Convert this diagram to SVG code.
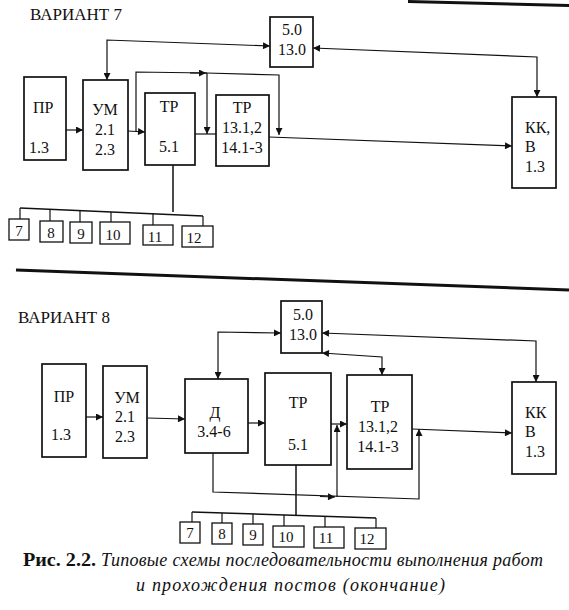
<svg xmlns="http://www.w3.org/2000/svg" width="569" height="610" viewBox="0 0 569 610">
<style>
.bx{fill:#fff;stroke:#111;stroke-width:1.7}
.sb{fill:#fff;stroke:#111;stroke-width:1.3}
.ln{fill:none;stroke:#111;stroke-width:1.2}
.bus{fill:none;stroke:#111;stroke-width:1.5}
text{font-family:"Liberation Serif","Times New Roman",serif;fill:#111}
.t{font-size:16px}
.tc{font-size:16px;text-anchor:middle}
.ts{font-size:15px;text-anchor:middle}
.hd{font-size:17px}
.cb{font-size:18px;font-weight:bold}
.ci{font-size:18px;font-style:italic}
</style>
<defs>
<marker id="ar" viewBox="0 0 10 10" refX="10" refY="5" markerWidth="8" markerHeight="7" markerUnits="userSpaceOnUse" orient="auto-start-reverse">
<path d="M0,0 L10,5 L0,10 z" fill="#111"/>
</marker>
</defs>

<g id="separators">
<line x1="408" y1="1.5" x2="569" y2="5.5" stroke="#111" stroke-width="3"/>
<line x1="16" y1="270" x2="569" y2="290" stroke="#111" stroke-width="3"/>
</g>

<text class="hd" x="30" y="20">ВАРИАНТ 7</text>
<text class="hd" x="18" y="323">ВАРИАНТ 8</text>

<g id="connectors-v7">
<line class="ln" x1="66" y1="130" x2="83" y2="130" marker-end="url(#ar)"/>
<line class="ln" x1="128" y1="131" x2="145" y2="132" marker-end="url(#ar)"/>
<polyline class="ln" points="136,131 136,72 207,73"/>
<line class="ln" x1="190" y1="73" x2="206" y2="73" marker-end="url(#ar)"/>
<polyline class="ln" points="206,73 279,75 279,135" marker-end="url(#ar)"/>
<line class="ln" x1="207" y1="73" x2="207" y2="134" marker-end="url(#ar)"/>
<line class="ln" x1="195" y1="134" x2="216" y2="134"/>
<line class="ln" x1="269" y1="137" x2="512" y2="146" marker-end="url(#ar)"/>
<polyline class="ln" points="107,80 107,40 270,46" marker-start="url(#ar)" marker-end="url(#ar)"/>
<polyline class="ln" points="313,48 537,57 537,97" marker-start="url(#ar)" marker-end="url(#ar)"/>
<line class="bus" x1="173" y1="165" x2="173" y2="212"/>
<line class="bus" x1="20" y1="208" x2="203" y2="216"/>
<line class="ln" x1="20" y1="208" x2="20" y2="219"/>
<line class="ln" x1="50" y1="209.3" x2="50" y2="221"/>
<line class="ln" x1="80" y1="210.6" x2="80" y2="222"/>
<line class="ln" x1="111" y1="212" x2="111" y2="222"/>
<line class="ln" x1="153" y1="213.8" x2="153" y2="225"/>
<line class="ln" x1="203" y1="216" x2="203" y2="226"/>
</g>

<g id="v7-pr"><rect class="bx" x="24" y="77" width="42" height="83"/>
<text class="t" x="33" y="113">ПР</text><text class="t" x="29" y="153">1.3</text></g>
<g id="v7-um"><rect class="bx" x="83" y="80" width="45" height="90"/>
<text class="tc" x="105" y="115">УМ</text><text class="tc" x="105" y="135">2.1</text><text class="tc" x="105" y="155">2.3</text></g>
<g id="v7-tr51"><rect class="bx" x="145" y="93" width="50" height="72"/>
<text class="tc" x="169" y="112">ТР</text><text class="tc" x="169" y="152">5.1</text></g>
<g id="v7-tr13"><rect class="bx" x="216" y="95" width="53" height="71"/>
<text class="tc" x="242" y="113">ТР</text><text class="tc" x="242" y="133">13.1,2</text><text class="tc" x="242" y="153">14.1-3</text></g>
<g id="v7-50"><rect class="bx" x="270" y="17" width="43" height="50"/>
<text class="tc" x="292" y="35">5.0</text><text class="tc" x="292" y="55">13.0</text></g>
<g id="v7-kk"><rect class="bx" x="512" y="97" width="44" height="91"/>
<text class="t" x="525" y="133">КК,</text><text class="t" x="525" y="152">В</text><text class="t" x="525" y="172">1.3</text></g>
<g id="v7-b7"><rect class="sb" x="9" y="219" width="20" height="21"/><text class="ts" x="19" y="236">7</text></g>
<g id="v7-b8"><rect class="sb" x="40" y="221" width="23" height="21"/><text class="ts" x="51" y="238">8</text></g>
<g id="v7-b9"><rect class="sb" x="70" y="222" width="22" height="21"/><text class="ts" x="81" y="239">9</text></g>
<g id="v7-b10"><rect class="sb" x="100" y="222" width="30" height="22"/><text class="ts" x="113" y="240">10</text></g>
<g id="v7-b11"><rect class="sb" x="143" y="225" width="30" height="20"/><text class="ts" x="155" y="242">11</text></g>
<g id="v7-b12"><rect class="sb" x="182" y="226" width="31" height="21"/><text class="ts" x="194" y="243">12</text></g>

<g id="connectors-v8">
<line class="ln" x1="86" y1="417" x2="103" y2="417" marker-end="url(#ar)"/>
<line class="ln" x1="147" y1="418" x2="185" y2="419" marker-end="url(#ar)"/>
<line class="ln" x1="248" y1="423" x2="265" y2="423" marker-end="url(#ar)"/>
<polyline class="ln" points="218,379 218,332 281,333" marker-start="url(#ar)" marker-end="url(#ar)"/>
<polyline class="ln" points="322,333 536,341 536,382" marker-start="url(#ar)" marker-end="url(#ar)"/>
<polyline class="ln" points="322,353 382,357 382,375" marker-start="url(#ar)" marker-end="url(#ar)"/>
<line class="ln" x1="331" y1="424" x2="347" y2="424" marker-end="url(#ar)"/>
<line class="ln" x1="412" y1="429" x2="512" y2="433" marker-end="url(#ar)"/>
<polyline class="ln" points="213,453 213,492 419,499 419,429" marker-end="url(#ar)"/>
<line class="ln" x1="320" y1="496.5" x2="335" y2="497" marker-end="url(#ar)"/>
<line class="ln" x1="337" y1="497" x2="337" y2="425" marker-end="url(#ar)"/>
<line class="bus" x1="296" y1="465" x2="296" y2="515"/>
<line class="bus" x1="192" y1="512" x2="376" y2="518"/>
<line class="ln" x1="192" y1="512" x2="192" y2="522"/>
<line class="ln" x1="222" y1="513" x2="222" y2="523"/>
<line class="ln" x1="253" y1="514" x2="253" y2="524"/>
<line class="ln" x1="284" y1="515" x2="284" y2="526"/>
<line class="ln" x1="325" y1="516.3" x2="325" y2="527"/>
<line class="ln" x1="376" y1="518" x2="376" y2="528"/>
</g>

<g id="v8-pr"><rect class="bx" x="42" y="364" width="44" height="93"/>
<text class="tc" x="64" y="402">ПР</text><text class="tc" x="61" y="440">1.3</text></g>
<g id="v8-um"><rect class="bx" x="103" y="366" width="44" height="92"/>
<text class="tc" x="127" y="403">УМ</text><text class="tc" x="125" y="422">2.1</text><text class="tc" x="125" y="442">2.3</text></g>
<g id="v8-d"><rect class="bx" x="185" y="379" width="63" height="74"/>
<text class="tc" x="215" y="418">Д</text><text class="tc" x="214" y="437">3.4-6</text></g>
<g id="v8-tr51"><rect class="bx" x="265" y="373" width="66" height="92"/>
<text class="tc" x="298" y="408">ТР</text><text class="tc" x="298" y="450">5.1</text></g>
<g id="v8-tr13"><rect class="bx" x="347" y="375" width="65" height="94"/>
<text class="tc" x="380" y="412">ТР</text><text class="tc" x="378" y="432">13.1,2</text><text class="tc" x="378" y="452">14.1-3</text></g>
<g id="v8-50"><rect class="bx" x="281" y="301" width="41" height="52"/>
<text class="tc" x="303" y="320">5.0</text><text class="tc" x="303" y="340">13.0</text></g>
<g id="v8-kk"><rect class="bx" x="512" y="382" width="44" height="92"/>
<text class="t" x="525" y="418">КК</text><text class="t" x="525" y="437">В</text><text class="t" x="525" y="457">1.3</text></g>
<g id="v8-b7"><rect class="sb" x="180" y="522" width="20" height="21"/><text class="ts" x="190" y="538">7</text></g>
<g id="v8-b8"><rect class="sb" x="212" y="523" width="20" height="21"/><text class="ts" x="222" y="539">8</text></g>
<g id="v8-b9"><rect class="sb" x="243" y="524" width="20" height="21"/><text class="ts" x="253" y="540">9</text></g>
<g id="v8-b10"><rect class="sb" x="273" y="526" width="31" height="21"/><text class="ts" x="286" y="542">10</text></g>
<g id="v8-b11"><rect class="sb" x="314" y="527" width="30" height="21"/><text class="ts" x="326" y="543">11</text></g>
<g id="v8-b12"><rect class="sb" x="355" y="528" width="31" height="21"/><text class="ts" x="367" y="544">12</text></g>

<g id="caption">
<text class="cb" x="23" y="566" textLength="73" lengthAdjust="spacingAndGlyphs">Рис. 2.2.</text>
<text class="ci" x="101" y="566" textLength="442" lengthAdjust="spacing">Типовые схемы последовательности выполнения работ</text>
<text class="ci" x="136" y="591" textLength="309" lengthAdjust="spacing">и прохождения постов (окончание)</text>
</g>
</svg>
